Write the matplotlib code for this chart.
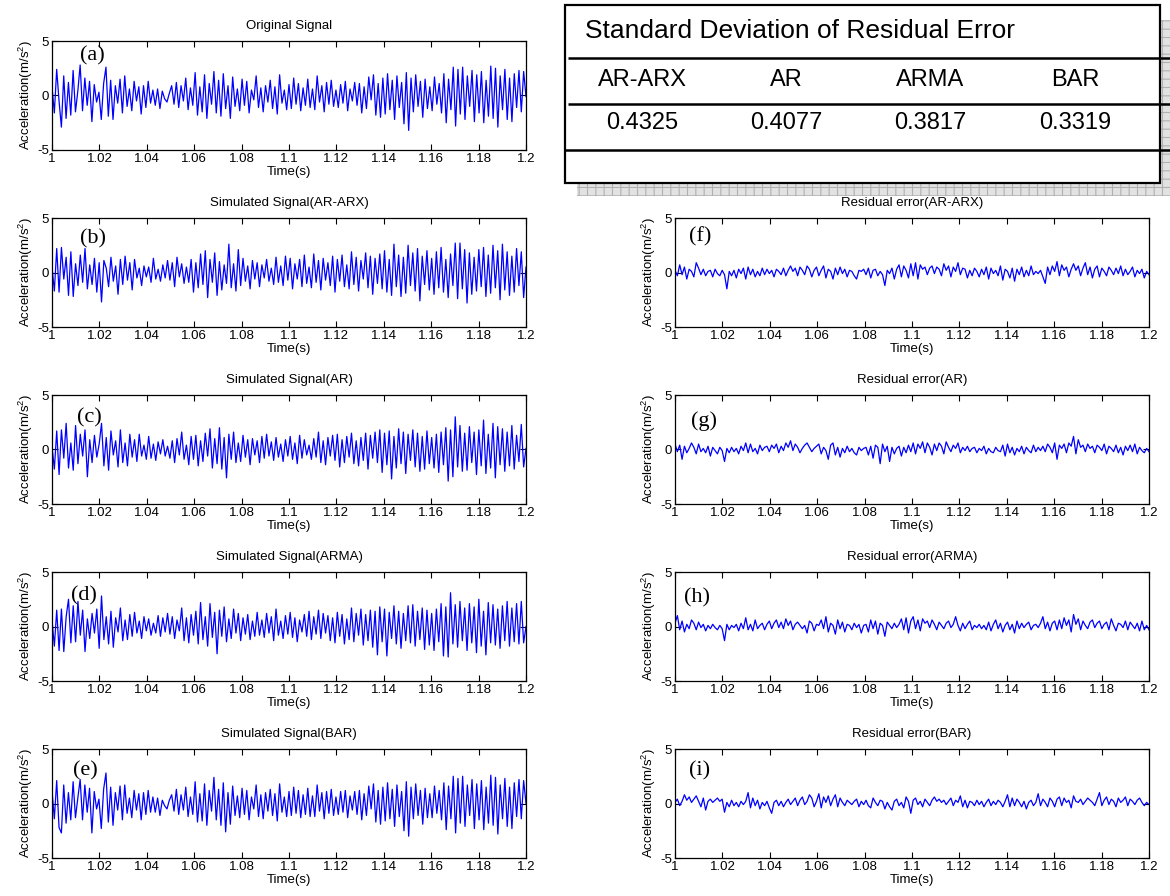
import numpy as np
import matplotlib
matplotlib.use('Agg')
import matplotlib.pyplot as plt
from matplotlib.patches import Rectangle
from matplotlib.ticker import FuncFormatter

# acceleration signals, 1.0 s .. 1.2 s
original = [
    0.8, -1.6, 2.4, -0.5, -2.9, 1.8, -2.1, 1.2, -1.8, 2.3,
    -1.5, 0.4, 2.8, -1.4, 1.6, -0.9, 1.3, -2.4, 1.0, -0.6,
    0.3, -2.2, 1.1, 2.6, -1.9, 1.4, -2.2, 0.9, -0.7, 1.5,
    -1.6, 1.8, -1.0, 0.6, -1.4, 1.3, -0.5, 0.8, -1.7, 0.9,
    -1.1, 1.3, -0.7, 0.5, -0.9, 0.6, -1.2, 0.4, -0.3, -0.6,
    0.2, 0.9, -0.8, 1.2, -1.1, 0.9, -0.5, 1.6, -1.3, 0.7,
    -0.9, 2.1, -1.8, 0.8, -1.5, 1.9, -2.1, 1.1, -0.8, 2.2,
    -1.6, 1.4, -1.9, 2.0, -1.2, 0.9, -2.1, 1.7, -1.0, 0.6,
    -1.4, 1.5, -0.9, 1.3, -1.6, 0.5, -0.4, 1.8, -1.1, 0.7,
    -1.5, 0.9, -0.6, 1.4, -1.2, 0.8, -1.7, 1.9, -0.7, 0.5,
    -1.3, 1.0, -1.2, 1.6, -0.8, 1.1, -1.4, 0.7, -0.9, 1.5,
    -1.1, 0.6, -1.3, 1.8, -0.6, 0.9, -1.5, 1.2, -0.8, 1.4,
    -1.0, 0.5, -1.1, 1.0, -0.7, 1.3, -1.4, 0.6, -0.5, 1.2,
    -0.9, 1.1, -1.6, 0.8, -1.2, 1.7, -0.4, 1.9, -1.8, 1.1,
    -2.0, 1.6, -1.7, 2.0, -1.3, 1.4, -2.2, 1.8, -1.1, 1.2,
    -2.6, 2.1, -3.2, 1.6, -1.5, 1.9, -1.0, 1.3, -2.0, 1.5,
    -1.2, 0.8, -1.4, 1.7, -0.8, 1.1, -1.6, 2.0, -2.5, 1.5,
    -1.3, 2.6, -2.8, 2.4, -1.7, 2.6, -2.2, 1.8, -1.0, 2.3,
    -2.4, 1.9, -1.6, 2.2, -2.5, 1.4, -1.9, 2.7, -2.1, 2.5,
    -2.9, 1.8, -1.3, 2.4, -2.2, 1.6, -2.4, 2.0, -1.1, 2.3,
    -1.5, 2.2, -0.1,
]
sim_arx = [
    0.5, -1.7, 2.2, -1.8, 2.3, -0.6, 1.4, -2.1, 1.9, -2.2,
    0.8, -1.2, 1.6, -0.9, 2.2, -1.5, 0.7, -1.1, 1.3, -1.8,
    0.9, -2.7, 1.1, 0.4, -1.3, 1.4, -0.8, 0.6, -2.0, 1.2,
    -1.1, 1.5, -0.7, 0.9, -1.6, 1.2, -0.5, 0.4, -1.2, 0.6,
    -0.4, 0.5, -0.9, 1.3, -0.6, 0.3, -0.8, 0.7, -0.5, 1.1,
    -0.7, 0.9, -1.3, 1.4, -0.4, 0.8, -1.0, 0.5, -0.9, 1.2,
    -1.8, 0.9, -1.4, 1.7, -1.1, 2.0, -2.3, 1.2, -0.9, 1.8,
    -2.1, 1.0, -1.6, 0.7, -1.0, 2.6, -1.4, 0.8, -1.7, 2.1,
    -1.2, 1.3, -0.8, 0.6, -1.5, 1.1, -0.6, 0.9, -1.3, 0.7,
    -0.5, 1.2, -0.8, 0.4, -1.1, 1.4, -0.9, 0.6, -1.2, 1.5,
    -0.7, 1.3, -1.5, 0.8, -0.6, 1.2, -1.3, 1.6, -1.0, 0.5,
    -1.4, 1.7, -0.9, 1.1, -1.6, 1.3, -0.7, 0.9, -1.2, 1.5,
    -1.8, 1.2, -0.8, 1.6, -1.3, 0.7, -1.5, 1.9, -1.1, 1.4,
    -1.7, 1.1, -0.6, 1.8, -1.4, 1.5, -2.0, 1.3, -1.0, 1.7,
    -1.5, 2.0, -1.8, 1.2, -2.1, 2.6, -1.3, 1.6, -2.2, 1.4,
    -1.9, 2.5, -1.2, 1.8, -1.7, 2.2, -2.6, 1.5, -1.1, 2.0,
    -1.6, 1.3, -2.0, 1.9, -1.4, 2.3, -1.8, 1.2, -2.3, 1.7,
    -1.2, 2.7, -2.4, 2.7, -1.5, 2.1, -2.8, 1.8, -2.0, 1.4,
    -1.7, 2.1, -1.3, 2.3, -2.2, 1.6, -1.9, 2.5, -1.4, 2.0,
    -2.5, 2.6, -1.6, 1.9, -2.1, 1.5, -1.8, 2.2, -1.2, 1.9,
    -2.3, 0.5,
]
sim_ar = [
    0.3, -1.8, 1.7, -2.3, 1.8, -0.8, 2.4, -1.7, 0.6, -1.9,
    2.2, -1.3, 1.4, -0.6, 1.8, -2.5, 0.9, -1.2, 1.3, -0.7,
    0.5, 2.4, -1.5, 1.1, -1.9, 1.7, -0.5, 0.8, -1.6, 1.8,
    -1.2, 0.6, -1.5, 1.4, -0.7, 0.9, -1.1, 1.4, -0.6, 0.4,
    -0.9, 1.2, -0.8, 0.5, -1.0, 0.7, -0.4, 0.9, -0.6, 0.3,
    -0.8, 0.8, -1.2, 1.0, -0.5, 1.6, -0.9, 0.4, -1.4, 1.2,
    -0.9, 1.3, -1.5, 0.8, -1.1, 1.5, -0.6, 1.9, -1.7, 1.0,
    -1.3, 2.0, -1.8, 1.1, -2.6, 1.4, -0.9, 1.6, -1.2, 0.6,
    -1.1, 1.3, -0.7, 0.9, -1.4, 1.0, -0.5, 0.8, -1.2, 1.2,
    -0.8, 1.4, -0.6, 0.7, -1.0, 1.1, -0.7, 0.5, -1.1, 0.9,
    -0.6, 1.2, -0.9, 0.6, -1.3, 1.3, -0.8, 0.9, -0.5, 0.4,
    -0.9, 1.0, -0.7, 1.6, -1.2, 0.8, -1.4, 1.1, -0.6, 1.3,
    -1.0, 1.4, -1.6, 0.9, -1.2, 1.2, -0.7, 1.5, -1.3, 0.8,
    -1.5, 1.1, -1.0, 1.5, -1.8, 1.3, -0.8, 1.6, -1.2, 1.8,
    -2.1, 1.5, -1.4, 1.7, -2.7, 1.2, -1.7, 1.9, -1.3, 1.6,
    -2.2, 1.4, -1.0, 1.8, -1.6, 1.5, -2.0, 1.2, -1.8, 1.7,
    -1.3, 1.1, -1.7, 1.4, -2.1, 1.6, -1.4, 2.0, -2.9, 1.8,
    -2.5, 3.0, -1.6, 2.2, -2.0, 1.5, -1.9, 2.1, -1.2, 1.6,
    -2.3, 1.8, -1.5, 2.7, -2.2, 1.4, -1.7, 2.4, -2.6, 2.1,
    -1.4, 1.9, -2.0, 1.6, -1.5, 2.2, -1.8, 1.3, -1.1, 2.3,
    -1.6, 0.1,
]
sim_arma = [
    0.6, -1.8, 1.5, -2.2, 1.6, -2.3, 0.9, 2.5, -1.5, 1.9,
    -1.4, 2.3, -0.8, 1.5, -2.3, 0.7, -1.1, 1.2, -0.6, 1.6,
    -2.0, 2.8, -1.2, 0.9, -1.6, 1.4, -1.9, 0.8, -0.5, 1.7,
    -1.3, 0.6, -1.2, 1.1, -0.9, 1.3, -0.6, 0.5, -1.1, 0.9,
    -0.4, 0.7, -0.8, 0.3, -0.6, 1.0, -0.9, 0.8, -0.5, 1.2,
    -0.7, 0.9, -1.1, 0.6, -0.4, 1.7, -1.3, 0.8, -1.5, 1.1,
    -0.8, 1.4, -1.6, 2.2, -1.2, 0.9, -1.8, 2.1, -1.0, 1.3,
    -2.5, 1.5, -0.9, 1.8, -1.4, 0.7, -1.1, 1.6, -0.6, 1.2,
    -1.3, 0.8, -0.7, 1.1, -1.2, 0.5, -0.9, 1.3, -0.8, 0.6,
    -1.0, 1.2, -0.6, 0.9, -1.3, 1.6, -0.8, 0.5, -1.1, 1.0,
    -0.7, 1.3, -1.0, 0.8, -1.4, 0.6, -0.5, 1.1, -0.9, 1.4,
    -1.2, 0.9, -0.7, 1.5, -1.1, 1.2, -0.6, 1.0, -1.3, 0.8,
    -1.5, 1.3, -0.9, 1.1, -1.6, 0.7, -1.2, 1.7, -1.4, 1.2,
    -0.8, 1.6, -1.7, 1.1, -1.3, 1.5, -1.9, 1.4, -2.6, 1.8,
    -1.4, 1.6, -2.7, 1.3, -1.1, 1.9, -1.6, 1.4, -2.0, 1.2,
    -1.3, 1.9, -1.5, 2.0, -1.8, 1.4, -1.2, 1.7, -2.1, 1.5,
    -1.7, 1.2, -2.2, 1.6, -1.4, 2.1, -2.7, 1.8, -2.8, 3.1,
    -1.6, 2.0, -1.9, 2.3, -1.3, 1.7, -2.2, 2.1, -1.5, 1.8,
    -2.4, 2.5, -1.8, 1.4, -2.6, 2.2, -1.5, 2.0, -1.7, 1.6,
    -2.0, 1.9, -1.3, 2.3, -1.8, 1.7, -1.4, 2.1, -1.6, 2.3,
    -1.5, 0.0,
]
sim_bar = [
    1.2, -1.4, 2.1, -2.2, -2.7, 1.7, -1.8, 1.0, -1.5, 2.0,
    -1.3, 0.5, 2.2, -1.5, 1.7, -0.8, 1.4, -2.7, 1.1, -0.5,
    0.4, -2.3, 1.3, 2.8, -1.7, 1.5, -2.0, 1.0, -0.6, 1.6,
    -1.5, 1.7, -0.9, 0.5, -1.3, 1.2, -0.6, 0.9, -1.5, 1.0,
    -1.0, 1.2, -0.8, 0.6, -0.8, 0.5, -1.1, 0.3, -0.2, -0.5,
    0.3, 0.8, -0.7, 1.3, -1.0, 0.8, -0.6, 1.5, -1.2, 0.6,
    -1.0, 2.0, -1.7, 0.9, -1.6, 1.8, -2.0, 1.2, -0.7, 2.4,
    -1.5, 1.3, -2.0, 1.9, -2.6, 1.0, -1.9, 1.6, -1.1, 0.7,
    -1.3, 1.4, -1.0, 1.2, -1.5, 0.6, -0.5, 1.7, -1.2, 0.8,
    -1.4, 1.0, -0.7, 1.3, -1.1, 0.9, -1.6, 1.8, -0.8, 0.6,
    -1.2, 1.1, -1.1, 1.5, -0.9, 1.2, -1.3, 0.8, -1.0, 1.4,
    -1.2, 0.7, -1.2, 1.7, -0.7, 1.0, -1.4, 1.1, -0.9, 1.3,
    -1.1, 0.6, -1.0, 1.1, -0.8, 1.2, -1.3, 0.7, -0.6, 1.1,
    -1.0, 1.2, -1.5, 0.9, -1.1, 1.6, -0.5, 1.8, -1.7, 1.2,
    -1.9, 1.5, -1.6, 1.9, -1.4, 1.3, -2.1, 1.7, -1.2, 1.1,
    -2.5, 2.0, -3.0, 1.5, -1.4, 1.8, -1.1, 1.2, -1.9, 1.4,
    -1.3, 0.9, -1.3, 1.6, -0.9, 1.2, -1.5, 1.9, -2.4, 1.6,
    -1.4, 2.5, -2.7, 2.3, -1.8, 2.5, -2.1, 1.7, -1.1, 2.2,
    -2.3, 1.8, -1.5, 2.1, -2.4, 1.5, -1.8, 2.6, -2.0, 2.4,
    -2.8, 1.7, -1.4, 2.3, -2.1, 1.5, -2.3, 1.9, -1.2, 2.2,
    -1.4, 2.1, 0.0,
]

# residual errors
res_arx = [
    0.2, -0.3, 0.7, -0.2, 0.5, -0.6, 0.3, 0.1, -0.4, 0.9,
    0.4, -0.2, 0.3, -0.3, 0.1, 0.2, -0.4, 0.3, -0.1, -0.3,
    0.2, -0.2, -1.5, 0.1, -0.3, 0.2, -0.5, 0.3, -0.1, 0.4,
    -0.6, 0.5, -0.2, 0.3, -0.4, 0.1, -0.3, 0.4, -0.2, 0.3,
    -0.1, 0.2, -0.4, 0.3, 0.1, -0.2, 0.4, -0.3, 0.2, 0.6,
    0.1, 0.4, -0.3, 0.5, 0.2, -0.2, 0.6, 0.3, -0.4, 0.2,
    0.5, -0.3, 0.2, 0.6, -0.5, 0.3, 0.1, -0.6, 0.4, -0.2,
    0.5, -0.1, 0.3, -0.4, 0.2, 0.1, -0.3, -0.6, 0.2, 0.1,
    0.3, -0.2, 0.4, -0.5, 0.2, 0.3, -0.3, 0.1, -0.2, -1.2,
    0.2, -0.1, 0.4, -0.6, 0.3, 0.7, -0.4, 0.6, 0.2, -0.5,
    0.8, -0.3, 0.9, -0.6, 0.7, 0.3, 0.5, -0.2, 0.4, 0.6,
    -0.1, 0.5, 0.3, -0.3, 0.8, 0.2, 0.6, -0.4, 0.5, 0.1,
    0.9, -0.2, 0.4, 0.3, -0.5, 0.2, -0.3, 0.4, 0.1, -0.4,
    0.3, -0.2, 0.5, -0.6, 0.4, -0.1, 0.2, -0.3, 0.6, -0.7,
    0.3, 0.1, -0.5, 0.4, -0.8, 0.3, -0.2, 0.5, -0.4, 0.2,
    -0.3, 0.6, -0.2, 0.1, -0.1, 0.2, -0.4, -1.0, 0.5, -0.2,
    0.6, 0.1, 1.0, -0.3, 0.7, 0.2, 0.5, -0.4, 0.3, 0.8,
    0.2, 0.6, -0.3, 0.4, 0.9, -0.2, 0.5, -0.5, 0.3, 0.6,
    -0.4, 0.4, 0.1, -0.3, 0.5, 0.2, -0.2, 0.4, -0.1, 0.6,
    -0.3, 0.3, -0.2, 0.1, 0.5, -0.4, 0.2, -0.1, 0.3, -0.5,
    0.1, -0.2,
]
res_ar = [
    0.5, -0.2, 0.4, -0.9, 0.3, -0.3, 0.1, 0.6, 0.2, -0.4,
    0.5, -0.2, 0.1, -0.3, 0.3, -0.6, 0.2, -0.1, -0.4, 0.2,
    -0.1, -1.1, 0.1, -0.3, 0.2, -0.2, 0.1, -0.4, 0.3, -0.1,
    0.6, -0.3, 0.5, -0.2, 0.1, -0.4, 0.4, -0.1, 0.2, 0.3,
    -0.2, 0.4, 0.1, 0.5, -0.3, 0.3, -0.1, 0.6, 0.2, 0.8,
    -0.1, 0.5, 0.2, -0.3, 0.1, 0.4, 0.6, 0.2, -0.2, 0.1,
    0.3, 0.5, -0.4, 0.2, -0.1, -0.9, 0.4, 0.6, -0.5, 0.2,
    -0.7, 0.1, -0.3, 0.3, -0.2, 0.1, -0.3, -0.5, 0.2, -0.1,
    0.1, 0.2, -0.5, 0.3, -0.8, 0.4, 0.2, -1.3, 0.5, -0.2,
    0.3, -1.1, 0.2, -0.4, 0.1, 0.3, -0.6, 0.2, -0.3, 0.4,
    -0.2, 0.6, -0.4, 0.5, 0.1, 0.7, -0.3, 0.6, 0.2, -0.5,
    0.5, -0.1, 0.6, 0.3, -0.4, 0.7, 0.2, -0.2, 0.4, 0.1,
    0.6, -0.3, 0.2, -0.1, 0.3, -0.2, 0.1, 0.2, -0.3, 0.1,
    -0.1, 0.3, -0.4, 0.1, -0.2, -0.3, 0.2, -0.1, -0.2, 0.4,
    -0.6, 0.5, -0.3, 0.2, -0.5, 0.1, -0.2, 0.3, -0.4, 0.2,
    -0.1, -0.3, 0.4, -0.2, 0.2, -0.1, 0.3, -0.2, 0.5, 0.2,
    -0.3, 0.6, -0.9, 0.4, 0.1, 0.5, -0.3, 0.6, 0.3, 1.2,
    -0.4, 0.9, 0.2, 0.4, -0.2, 0.5, 0.1, 0.3, -0.3, 0.4,
    0.2, -0.1, 0.5, -0.4, 0.3, 0.1, -0.2, 0.4, -0.3, 0.2,
    -0.5, 0.3, -0.1, 0.4, -0.2, 0.5, -0.4, 0.2, -0.1, -0.3,
    0.1, -0.2,
]
res_arma = [
    0.3, 1.0, -0.3, 0.5, -0.5, 0.2, -0.2, 0.6, 0.3, -0.3,
    0.4, -0.1, 0.2, -0.4, 0.1, -0.2, 0.2, -0.1, -0.3, 0.1,
    -0.2, -1.3, 0.2, -0.3, 0.1, -0.1, 0.2, -0.4, 0.3, -0.2,
    0.8, -0.3, 0.2, -0.4, 0.6, -0.2, 0.1, 0.3, -0.3, 0.2,
    0.5, -0.2, 0.3, 0.6, -0.1, 0.4, -0.2, 0.7, 0.1, 0.5,
    -0.3, 0.2, 0.4, 0.1, -0.2, 0.1, -0.6, 0.5, 0.3, -0.4,
    0.2, 0.1, 0.6, -0.2, 0.9, -0.5, 0.3, 0.1, -0.7, 0.6,
    -0.2, 0.4, -0.5, 0.2, 0.1, -0.3, 0.3, -0.1, 0.2, -0.6,
    0.1, 0.2, -0.5, 0.6, -0.2, 0.5, -0.7, 0.3, 0.1, -0.9,
    0.4, 0.1, -0.2, 0.3, -0.1, 0.2, 0.7, -0.3, 0.8, -0.6,
    0.5, 0.9, -0.2, 0.6, -0.4, 0.7, 0.3, 0.5, -0.1, 0.6,
    0.2, -0.3, 0.4, 0.1, -0.2, 0.3, 0.5, -0.1, 0.2, 0.9,
    0.1, -0.4, 0.3, -0.2, 0.2, 0.5, -0.3, 0.1, -0.1, 0.2,
    -0.2, 0.1, -0.3, 0.4, -0.4, 0.2, 0.6, -0.2, 0.3, -0.5,
    0.1, 0.4, -0.3, 0.2, -0.6, 0.5, -0.2, 0.3, -0.1, 0.2,
    0.4, -0.3, 0.1, 0.2, -0.1, 0.3, 0.9, -0.2, 0.4, -0.4,
    0.3, 0.5, -0.3, 0.6, -0.2, 0.8, 0.1, 0.6, -0.5, 1.1,
    0.2, 0.7, -0.3, 0.5, 0.1, -0.2, 0.4, 0.6, -0.1, 0.3,
    0.5, -0.2, 0.2, 0.4, -0.3, 0.7, 0.1, -0.4, 0.3, 0.2,
    -0.1, 0.5, -0.3, 0.4, 0.1, -0.2, 0.3, -0.4, 0.5, -0.3,
    0.1, -0.3,
]
res_bar = [
    0.1, 0.4, -0.2, 0.2, 0.8, 0.3, 0.6, 0.1, 0.4, 0.7,
    0.2, -0.3, 0.5, -0.6, 0.2, 0.4, 0.1, 0.3, 0.5, 0.2,
    0.4, -0.8, 0.1, -0.3, 0.3, -0.2, 0.1, -0.3, 0.2, -0.1,
    0.2, 1.0, -0.4, 0.5, -0.2, 0.3, -0.5, 0.1, -0.2, 0.2,
    -0.4, -0.9, 0.1, 0.3, -0.2, 0.2, -0.3, 0.1, 0.4, -0.1,
    0.2, 0.5, -0.2, 0.3, 0.6, -0.1, 0.2, 0.8, 0.5, -0.3,
    0.2, 0.9, -0.4, 0.6, 0.1, 0.7, -0.2, 0.4, 0.8, -0.3,
    0.5, 0.1, -0.2, 0.3, 0.1, -0.1, 0.2, 0.4, -0.3, 0.2,
    -0.1, 0.3, -0.2, -0.4, 0.5, 0.1, -0.2, 0.3, 0.2, -0.5,
    0.1, -0.3, -0.6, 0.2, 0.4, -0.2, 0.1, -0.4, 0.6, 0.2,
    -0.9, 0.3, 0.5, -0.1, 0.2, -0.3, 0.4, 0.1, -0.2, 0.3,
    0.6, 0.2, 0.4, 0.1, 0.3, -0.1, 0.2, 0.5, -0.2, 0.3,
    0.1, 0.7, -0.3, 0.3, -0.4, 0.2, 0.1, -0.2, 0.3, -0.1,
    0.2, -0.3, 0.1, 0.4, -0.2, 0.2, -0.1, 0.3, 0.1, -0.3,
    0.2, 0.8, -0.3, 0.5, -0.2, 0.4, 0.1, -0.3, 0.2, -0.5,
    0.1, 0.3, -0.2, 0.1, 0.9, -0.2, 0.4, 0.1, -0.3, 0.5,
    0.2, -0.3, 0.4, 0.6, -0.2, 0.5, 0.1, 0.3, -0.4, 0.7,
    0.2, 0.1, 0.4, -0.1, 0.2, 0.5, 0.3, 0.1, -0.2, 0.4,
    1.0, -0.2, 0.3, 0.6, -0.1, 0.4, 0.2, -0.3, 0.5, 0.1,
    0.3, 0.6, -0.2, 0.4, 0.2, -0.1, 0.3, 0.5, 0.1, -0.2,
    0.1, -0.1,
]

left_titles = ['Original Signal', 'Simulated Signal(AR-ARX)', 'Simulated Signal(AR)',
               'Simulated Signal(ARMA)', 'Simulated Signal(BAR)']
right_titles = ['Residual error(AR-ARX)', 'Residual error(AR)',
                'Residual error(ARMA)', 'Residual error(BAR)']
left_letters = ['(a)', '(b)', '(c)', '(d)', '(e)']
right_letters = ['(f)', '(g)', '(h)', '(i)']

models = ['AR-ARX', 'AR', 'ARMA', 'BAR']
std_err = ['0.4325', '0.4077', '0.3817', '0.3319']

plt.rcParams['font.family'] = 'Liberation Sans'
plt.rcParams['mathtext.fontset'] = 'custom'
plt.rcParams['mathtext.rm'] = 'Liberation Sans'
plt.rcParams['mathtext.default'] = 'regular'
plt.rcParams['axes.unicode_minus'] = False
plt.rcParams['hatch.linewidth'] = 0.8

W, H = 1170, 896
fig = plt.figure(figsize=(W / 100, H / 100), dpi=100)

FS = 9.5


def panel(x0, top, y, title, letter, lpos):
    # x0, top in pixels
    ax = fig.add_axes([x0 / W, 1 - (top + 109) / H, 474 / W, 109 / H])
    t = np.linspace(1.0, 1.2, len(y))
    ax.plot(t, y, color='#0000ff', lw=0.9)
    ax.set_xlim(1.0, 1.2)
    ax.set_ylim(-5, 5)
    ax.set_xticks(np.round(np.linspace(1.0, 1.2, 11), 2))
    ax.xaxis.set_major_formatter(FuncFormatter(lambda v, p: '%g' % v))
    ax.set_yticks([-5, 0, 5])
    ax.tick_params(direction='in', top=True, right=True, length=4,
                   width=0.8, labelsize=FS, pad=2)
    for s in ax.spines.values():
        s.set_linewidth(0.9)
    ax.set_xlabel('Time(s)', fontsize=FS, labelpad=1)
    ax.set_ylabel('Acceleration(m/s$^2$)', fontsize=FS, labelpad=2)
    ax.set_title(title, fontsize=FS, pad=9)
    ax.text(lpos[0], lpos[1], letter, transform=ax.transAxes,
            family='Liberation Serif', fontsize=16, va='center', ha='left')
    return ax


tops = [41, 218, 395, 572, 749]
lpos_left = [(0.059, 0.86), (0.06, 0.81), (0.053, 0.79), (0.04, 0.78), (0.045, 0.80)]
lpos_right = [(0.03, 0.83), (0.034, 0.76), (0.02, 0.76), (0.03, 0.80)]

left_data = [original, sim_arx, sim_ar, sim_arma, sim_bar]
for i in range(5):
    panel(52, tops[i], left_data[i], left_titles[i], left_letters[i], lpos_left[i])

right_data = [res_arx, res_ar, res_arma, res_bar]
for i in range(4):
    panel(675, tops[i + 1], right_data[i], right_titles[i], right_letters[i], lpos_right[i])

# table with drop shadow, drawn in pixel coordinates
ov = fig.add_axes([0, 0, 1, 1], zorder=10)
ov.set_xlim(0, W)
ov.set_ylim(H, 0)
ov.axis('off')
ov.patch.set_alpha(0)

ov.add_patch(Rectangle((577, 20), W - 577, 176, facecolor='#e2e2e2',
                       edgecolor='#b0b0b0', hatch='++', lw=0))
ov.add_patch(Rectangle((565, 5), 595, 178, facecolor='white',
                       edgecolor='black', lw=1.6))
for yy, xs in [(58, 568), (104, 568), (150, 565)]:
    ov.plot([xs, W], [yy, yy], color='black', lw=1.8, solid_capstyle='butt')

ov.text(585, 31, 'Standard Deviation of Residual Error', fontsize=19,
        ha='left', va='center')
col_x = [642, 786, 930, 1075]
for cx, m, v in zip(col_x, models, std_err):
    ov.text(cx, 80, m, fontsize=17, ha='center', va='center')
    ov.text(cx, 123, v, fontsize=17, ha='center', va='center')

fig.savefig('out.png', dpi=100)
